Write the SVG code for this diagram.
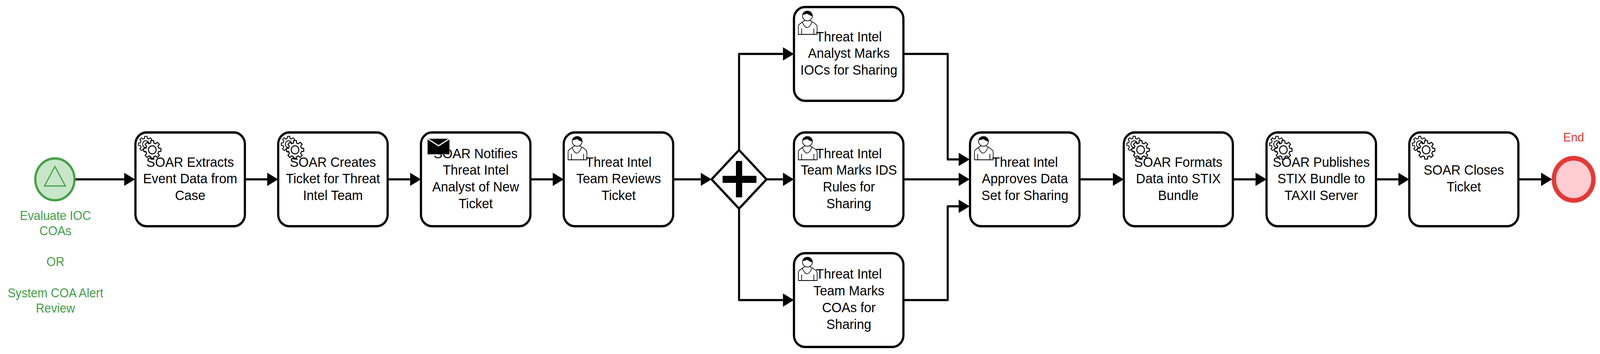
<svg xmlns="http://www.w3.org/2000/svg" width="4371" height="906" viewBox="0 0 4371 906" preserveAspectRatio="none">
<style>
svg{display:block;width:100vw;height:100vh}
text{font-family:"Liberation Sans",Arial,sans-serif;text-anchor:middle}
.t{font-size:35.6px;fill:#000}
.box{fill:#fff;stroke:#000;stroke-width:6}
.c{fill:none;stroke:#000;stroke-width:5.5;stroke-linejoin:round;marker-end:url(#arrow)}
.g{font-size:32.7px;fill:#43a047}
.r{font-size:32px;fill:#e53935}
.gear{fill:#fff;stroke:#000;stroke-width:2.6;stroke-linejoin:round}
.u{fill:#fff;stroke:#000;stroke-width:1.8}
</style>
<defs>
<marker id="arrow" markerUnits="userSpaceOnUse" markerWidth="30" markerHeight="34" viewBox="0 -17 30 34" refX="0" refY="0" orient="auto"><path d="M0,-17L30,0L0,17Z" fill="#000"/></marker>
<g id="gearShape"><path class="gear" d="M17.47,4.35L23.7,3.75L23.7,-3.75L17.47,-4.35L15.43,-9.28L19.41,-14.11L14.11,-19.41L9.28,-15.43L4.35,-17.47L3.75,-23.7L-3.75,-23.7L-4.35,-17.47L-9.28,-15.43L-14.11,-19.41L-19.41,-14.11L-15.43,-9.28L-17.47,-4.35L-23.7,-3.75L-23.7,3.75L-17.47,4.35L-15.43,9.28L-19.41,14.11L-14.11,19.41L-9.28,15.43L-4.35,17.47L-3.75,23.7L3.75,23.7L4.35,17.47L9.28,15.43L14.11,19.41L19.41,14.11L15.43,9.28Z"/><circle class="gear" r="10.5"/></g>
<g id="service"><use href="#gearShape" transform="translate(28.5,30) scale(.85)"/><use href="#gearShape" transform="translate(46,44.5)"/></g>
<g id="user">
<path class="u" d="M12,70V50C12,46 15,43.5 22.7,38.7L36,30L49.5,37.5C58,42 63.3,46 63.3,50V70Z"/>
<ellipse class="u" cx="36.8" cy="22.8" rx="13.5" ry="12.5"/>
<path d="M23.5,21C24,6 50,6 50.5,24C44,22 40,19 36,17C31,19 26,19 23.5,21Z" fill="#000"/>
<path d="M22.7,38.7Q36,67.5 49.5,37.5" fill="#fff" stroke="#000" stroke-width="1.8"/>
<path d="M21,54.7V70M54.3,54.7V70" fill="none" stroke="#000" stroke-width="1.8"/>
</g>
<g id="mail"><rect x="0" y="0" width="60" height="40" fill="#000" stroke="#999" stroke-width="1"/><path d="M0,0L30,18L60,0" fill="none" stroke="#fff" stroke-width="3"/></g>
</defs>
<rect width="4371" height="906" fill="#fff"/>
<g id="connectors">
<path class="c" d="M206,459H339"/>
<path class="c" d="M669,459H730"/>
<path class="c" d="M1059,459H1120"/>
<path class="c" d="M1449,459H1510"/>
<path class="c" d="M1838,459H1914"/>
<path class="c" d="M2019,384V138H2139"/>
<path class="c" d="M2094,459H2139"/>
<path class="c" d="M2019,534V768H2139"/>
<path class="c" d="M2468,138H2589V408H2619"/>
<path class="c" d="M2468,459H2619"/>
<path class="c" d="M2468,768H2589V528H2619"/>
<path class="c" d="M2949,459H3040"/>
<path class="c" d="M3368,459H3430"/>
<path class="c" d="M3759,459H3820"/>
<path class="c" d="M4148,459H4210"/>
</g>
<g id="start">
<circle cx="150" cy="459" r="53.5" fill="#c8e6c9" stroke="#43a047" stroke-width="6"/>
<path d="M150,426L121.5,476H178.5Z" fill="none" stroke="#43a047" stroke-width="3"/>
<text class="g" x="151.5" y="563">Evaluate IOC</text>
<text class="g" x="151.5" y="602">COAs</text>
<text class="g" x="151.5" y="681">OR</text>
<text class="g" x="151.5" y="761">System COA Alert</text>
<text class="g" x="151.5" y="800">Review</text>
</g>
<g id="task1"><rect class="box" x="370" y="339" width="299" height="240" rx="30"/><use href="#service" transform="translate(370,339)"/>
<text class="t" x="519.5" y="427">SOAR Extracts</text><text class="t" x="519.5" y="469.5">Event Data from</text><text class="t" x="519.5" y="512">Case</text></g>
<g id="task2"><rect class="box" x="760" y="339" width="299" height="240" rx="30"/><use href="#service" transform="translate(760,339)"/>
<text class="t" x="909.5" y="427">SOAR Creates</text><text class="t" x="909.5" y="469.5">Ticket for Threat</text><text class="t" x="909.5" y="512">Intel Team</text></g>
<g id="task3"><rect class="box" x="1150" y="339" width="299" height="240" rx="30"/>
<text class="t" x="1299.5" y="405">SOAR Notifies</text><text class="t" x="1299.5" y="447.5">Threat Intel</text><text class="t" x="1299.5" y="490">Analyst of New</text><text class="t" x="1299.5" y="533">Ticket</text><use href="#mail" transform="translate(1168,355)"/></g>
<g id="task4"><rect class="box" x="1540" y="339" width="299" height="240" rx="30"/><use href="#user" transform="translate(1540,339)"/>
<text class="t" x="1690" y="427">Threat Intel</text><text class="t" x="1690" y="469.5">Team Reviews</text><text class="t" x="1690" y="512">Ticket</text></g>
<g id="gateway"><path d="M2019,384L2094,459L2019,534L1944,459Z" fill="#fff" stroke="#000" stroke-width="6" stroke-linejoin="round"/><path d="M2010.5,412H2027.5V450H2066.5V468H2027.5V505H2010.5V468H1974V450H2010.5Z" fill="#000"/></g>
<g id="task5"><rect class="box" x="2169" y="18" width="299" height="240" rx="30"/><use href="#user" transform="translate(2169,18)"/>
<text class="t" x="2319" y="106">Threat Intel</text><text class="t" x="2319" y="148.5">Analyst Marks</text><text class="t" x="2319" y="191">IOCs for Sharing</text></g>
<g id="task6"><rect class="box" x="2169" y="339" width="299" height="240" rx="30"/><use href="#user" transform="translate(2169,339)"/>
<text class="t" x="2319" y="405">Threat Intel</text><text class="t" x="2319" y="447.5">Team Marks IDS</text><text class="t" x="2319" y="490">Rules for</text><text class="t" x="2319" y="533">Sharing</text></g>
<g id="task7"><rect class="box" x="2169" y="648" width="299" height="240" rx="30"/><use href="#user" transform="translate(2169,648)"/>
<text class="t" x="2319" y="713.5">Threat Intel</text><text class="t" x="2319" y="756">Team Marks</text><text class="t" x="2319" y="799">COAs for</text><text class="t" x="2319" y="842">Sharing</text></g>
<g id="task8"><rect class="box" x="2650" y="339" width="299" height="240" rx="30"/><use href="#user" transform="translate(2650,339)"/>
<text class="t" x="2800" y="427">Threat Intel</text><text class="t" x="2800" y="469.5">Approves Data</text><text class="t" x="2800" y="512">Set for Sharing</text></g>
<g id="task9"><rect class="box" x="3070" y="339" width="298" height="240" rx="30"/><use href="#service" transform="translate(3070,339)"/>
<text class="t" x="3219" y="427">SOAR Formats</text><text class="t" x="3219" y="469.5">Data into STIX</text><text class="t" x="3219" y="512">Bundle</text></g>
<g id="task10"><rect class="box" x="3460" y="339" width="299" height="240" rx="30"/><use href="#service" transform="translate(3460,339)"/>
<text class="t" x="3609.5" y="427">SOAR Publishes</text><text class="t" x="3609.5" y="469.5">STIX Bundle to</text><text class="t" x="3609.5" y="512">TAXII Server</text></g>
<g id="task11"><rect class="box" x="3850" y="339" width="298" height="240" rx="30"/><use href="#service" transform="translate(3850,339)"/>
<text class="t" x="3999" y="447">SOAR Closes</text><text class="t" x="3999" y="490">Ticket</text></g>
<g id="end"><circle cx="4299" cy="459" r="54" fill="#ffcdd2" stroke="#e53935" stroke-width="12"/><text class="r" x="4299" y="362">End</text></g>
</svg>
